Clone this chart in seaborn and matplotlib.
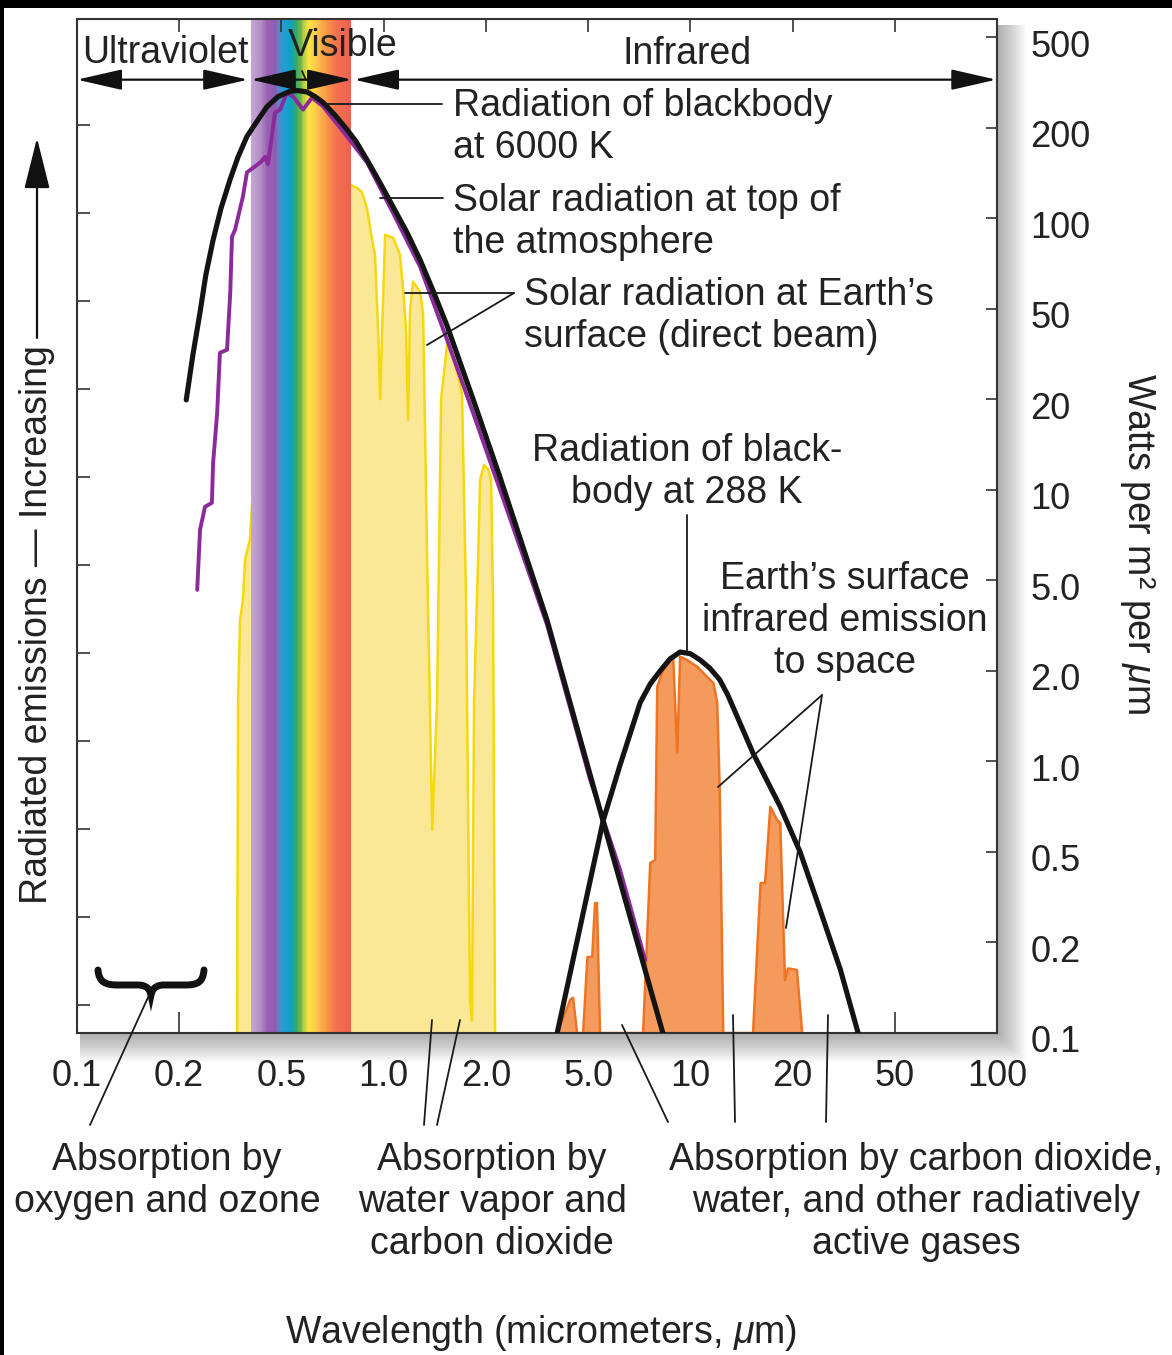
import numpy as np
import matplotlib
matplotlib.use('Agg')
import matplotlib.pyplot as plt
import matplotlib.transforms as mtransforms
from matplotlib.colors import LinearSegmentedColormap
from matplotlib.patches import Rectangle, PathPatch
from matplotlib.path import Path
from matplotlib.lines import Line2D
from matplotlib.ticker import NullLocator
import seaborn as sns

# axis ticks: both axes are drawn with the tick values evenly spaced
x_ticks = [0.1, 0.2, 0.5, 1, 2, 5, 10, 20, 50, 100]
x_tick_labels = ['0.1', '0.2', '0.5', '1.0', '2.0', '5.0', '10', '20', '50', '100']
y_ticks = [0.1, 0.2, 0.5, 1, 2, 5, 10, 20, 50, 100, 200, 500]
y_tick_labels = ['0.1', '0.2', '0.5', '1.0', '2.0', '5.0', '10', '20', '50', '100', '200', '500']

# blackbody at 6000 K (um, W m-2 um-1)
bb6000_um = [0.213, 0.226, 0.241, 0.254, 0.271, 0.291, 0.316, 0.339, 0.367, 0.398,
             0.439, 0.485, 0.530, 0.559, 0.595, 0.628, 0.663, 0.719, 0.78, 0.829,
             0.894, 0.976, 1.066, 1.172, 1.28, 1.398, 1.537, 1.834, 2.27, 3.46, 5.54, 8.3]
bb6000_w = [19.9, 31.3, 48.2, 64.9, 84.7, 108, 135, 160, 187, 210,
            247, 274, 289, 291, 287, 274, 258, 227, 197, 180,
            156, 131, 109, 89.5, 72.7, 57.4, 42.1, 20, 11.0, 3.34, 0.63, 0.1]

# blackbody at 288 K
bb288_um = [3.79, 5.54, 6.21, 7.12, 7.62, 8.15, 8.72, 9.33, 10.0, 10.7, 11.4, 12.2,
            12.9, 13.55, 15.3, 18.4, 21.4, 25.6, 30.7, 36]
bb288_w = [0.1, 0.637, 0.973, 1.57, 1.81, 2.0, 2.26, 2.42, 2.38, 2.23, 2.06, 1.87,
           1.66, 1.461, 1.065, 0.707, 0.5, 0.278, 0.1625, 0.1]

# solar radiation at top of the atmosphere
toa_um = [0.235, 0.241, 0.252, 0.268, 0.271, 0.281, 0.288, 0.307, 0.316, 0.321, 0.330, 0.354,
          0.367, 0.413, 0.432, 0.443, 0.472, 0.494, 0.519, 0.541, 0.579, 0.615, 0.663, 0.78,
          0.894, 1.066, 1.28, 1.537, 1.834, 2.27, 3.46, 5.07, 6.21, 7.36]
toa_w = [4.54, 7.36, 8.78, 9.05, 12.3, 18.0, 32.0, 33.0, 56.5, 86.8, 91.6, 118,
         142, 153, 160, 151, 233, 240, 285, 274, 240, 271, 248, 187,
         153, 104, 69, 36.5, 18.0, 10, 3.19, 0.868, 0.417, 0.175]

# solar radiation at Earth's surface (direct beam)
surface_um = [0.336, 0.339, 0.345, 0.354, 0.361, 0.377, 0.395, 0.567, 0.796, 0.835,
              0.864, 0.894, 0.924, 0.943, 0.963, 0.976, 0.996, 1.01, 1.066, 1.117,
              1.141, 1.164, 1.18, 1.196, 1.221, 1.28, 1.307, 1.343, 1.39, 1.437,
              1.476, 1.537, 1.59, 1.656, 1.702, 1.748, 1.796, 1.82, 1.846, 1.897,
              1.923, 1.975, 2.04, 2.096, 2.132, 2.172]
surface_w = [0.1, 1.6, 3.34, 4.1, 5.85, 6.82, 13.6, 115, 129, 126,
             122, 107, 85, 75.6, 40.4, 20, 53.6, 88.1, 86.1, 75.6,
             57.8, 40.4, 17.1, 49.5, 61.5, 57, 47, 5.85, 0.592, 1.6,
             20, 34.7, 31.4, 25.6, 20.9, 4.1, 0.129, 0.11, 1.6, 5.85,
             10.8, 12.1, 11.7, 10.8, 4.1, 0.1]

# Earth's surface infrared emission to space
earth_ir_um = [3.79, 4.26, 4.37, 4.53, 4.78, 4.97, 5.14, 5.24, 5.31, 5.42,
               7.26, 7.62, 7.88, 7.99, 8.32, 8.9, 9.15, 9.33, 9.79, 10.5, 11.2, 11.7, 12.0, 12.2, 12.5,
               15.3, 16.1, 16.6, 17.2, 18.0, 18.4, 19.0, 19.4, 20.8, 21.8]
earth_ir_w = [0.1, 0.129, 0.131, 0.1, 0.1, 0.179, 0.179, 0.298, 0.298, 0.1,
              0.1, 0.447, 0.461, 1.77, 2.02, 2.31, 1.067, 2.31, 2.23, 2.08, 1.91, 1.82, 1.565, 0.823, 0.1,
              0.1, 0.365, 0.365, 0.706, 0.639, 0.624, 0.15, 0.164, 0.162, 0.1]

visible_um = (0.38, 0.80)
band_arrow_w = 325
uv_arrow = (0.1, 0.371)
vis_arrow = (0.38, 0.807)
ir_arrow = (0.818, 99.5)

spectrum_colors = [(0.0, '#c4a6d4'), (0.10, '#b18bc5'), (0.15, '#9c62b4'), (0.24, '#8a5cb0'),
                   (0.27, '#6a7cc2'), (0.31, '#2a9ad3'), (0.38, '#0fa2cf'), (0.42, '#1aa5a0'),
                   (0.46, '#3ea963'), (0.50, '#74b54b'), (0.54, '#c8d440'), (0.58, '#fde244'),
                   (0.64, '#fcd046'), (0.70, '#fab24a'), (0.78, '#f79046'), (0.86, '#f3714f'),
                   (1.0, '#f0604f')]


def even_log_scale(ticks):
    lt = np.log10(ticks)
    lt = np.concatenate([[2 * lt[0] - lt[1]], lt, [2 * lt[-1] - lt[-2]]])
    pos = np.arange(-1, len(ticks) + 1, dtype=float)

    def fwd(v):
        v = np.clip(np.asarray(v, dtype=float), 1e-6, None)
        return np.interp(np.log10(v), lt, pos)

    def inv(p):
        return 10 ** np.interp(np.asarray(p, dtype=float), pos, lt)
    return fwd, inv


fx, ix = even_log_scale(x_ticks)
fy, iy = even_log_scale(y_ticks)

sns.set_theme(style='white')
plt.rcParams['font.family'] = ['Liberation Sans', 'DejaVu Sans']
plt.rcParams['mathtext.fontset'] = 'custom'
plt.rcParams['mathtext.rm'] = 'Liberation Sans'
plt.rcParams['mathtext.it'] = 'Liberation Sans:italic'

W, H = 1172, 1355
fig = plt.figure(figsize=(W / 100, H / 100), dpi=100)
fig.patch.set_facecolor('white')
T = mtransforms.Affine2D().scale(1 / W, -1 / H).translate(0, 1) + fig.transFigure
TXT = '#222222'

ax = fig.add_axes([77 / W, 1 - 1033 / H, 920 / W, 1014 / H])
ax.set_facecolor('white')
ax.set_xscale('function', functions=(fx, ix))
ax.set_yscale('function', functions=(fy, iy))

# surface direct beam
ax.fill_between(surface_um, 0.1, surface_w, color='#fbe897', lw=0, zorder=1)
sns.lineplot(x=surface_um, y=surface_w, ax=ax, color='#f6d80e', lw=1.8, sort=False,
             estimator=None, zorder=1.1)

# earth's infrared emission
ax.fill_between(earth_ir_um, 0.1, earth_ir_w, color='#f49a5c', lw=0, zorder=1.2)
sns.lineplot(x=earth_ir_um, y=earth_ir_w, ax=ax, color='#ee7424', lw=1.8, sort=False,
             estimator=None, zorder=1.3)

# visible spectrum band
cmap = LinearSegmentedColormap.from_list('spectrum', spectrum_colors)
edges = ix(np.linspace(fx(visible_um[0]), fx(visible_um[1]), 81))
ax.pcolormesh(edges, [0.1, iy(11.2)], np.linspace(0, 1, 80)[None, :], cmap=cmap,
              shading='flat', zorder=1.5)

sns.lineplot(x=toa_um, y=toa_w, ax=ax, color='#8a2a9b', lw=2.8, sort=False,
             estimator=None, zorder=3)
sns.lineplot(x=bb6000_um, y=bb6000_w, ax=ax, color='#141414', lw=3.7, sort=False,
             estimator=None, zorder=4)
sns.lineplot(x=bb288_um, y=bb288_w, ax=ax, color='#141414', lw=3.7, sort=False,
             estimator=None, zorder=4)

ax.set_xlim(0.1, 100)
ax.set_ylim(0.1, iy(11.2))
ax.set_xlabel('')
ax.set_ylabel('')

# band arrows along the top
arrow_kw = dict(arrowstyle='<|-|>,head_length=1.4,head_width=0.32', mutation_scale=20,
                lw=1.6, color='#111111', shrinkA=0, shrinkB=0)
for a, b in (uv_arrow, vis_arrow, ir_arrow):
    ax.annotate('', xy=(b, band_arrow_w), xytext=(a, band_arrow_w),
                arrowprops=arrow_kw, annotation_clip=False, zorder=6)

# ticks
ax.set_xticks(x_ticks)
ax.set_xticklabels(x_tick_labels)
ax.set_yticks(y_ticks)
ax.set_yticklabels(y_tick_labels)
ax.xaxis.set_minor_locator(NullLocator())
ax.yaxis.set_minor_locator(NullLocator())

ty = ax.twinx()
ty.set_ylim(0, 11.2)
ty.yaxis.tick_left()
ty.set_yticks(np.linspace(0.31, 10.03, 11))
ty.tick_params(direction='in', length=9, width=1.2, color='#333333',
               labelleft=False, labelright=False)
for s in ty.spines.values():
    s.set_visible(False)

tx = ax.twiny()
tx.set_xlim(0, 9)
tx.set_xticks(range(1, 9))
tx.tick_params(direction='in', length=9, width=1.2, color='#333333',
               labeltop=False, labelbottom=False)
for s in tx.spines.values():
    s.set_visible(False)

ax.yaxis.tick_right()
ax.tick_params(axis='x', direction='in', length=15, width=1.2, color='#333333',
               pad=19, labelsize=26, labelcolor=TXT)
ax.tick_params(axis='y', direction='in', length=8, width=1.2, color='#333333',
               pad=24, labelsize=26, labelcolor=TXT, left=False, right=True)
offset = mtransforms.ScaledTranslation(0, -0.06, fig.dpi_scale_trans)
for lab in ax.get_yticklabels():
    lab.set_transform(lab.get_transform() + offset)
for s in ax.spines.values():
    s.set_color('#333333')
    s.set_linewidth(1.5)

# drop shadow and dark edges of the scan
for d in range(1, 31, 2):
    fig.patches.append(Rectangle((80, 25), 917 + d, 1008 + d, transform=T,
                                 facecolor='black', alpha=0.022, lw=0, zorder=-1))
fig.patches.append(Rectangle((0, 0), W, 8, transform=T, facecolor='black', lw=0, zorder=10))
fig.patches.append(Rectangle((0, 0), 4, H, transform=T, facecolor='black', lw=0, zorder=10))

# texts
tk = dict(transform=T, fontsize=27, color=TXT, linespacing=1.23)
fig.text(82, 53, 'Ultraviolet', ha='left', va='center', **tk)
fig.text(343, 46, 'Visible', ha='center', va='center', **tk)
fig.text(687, 54, 'Infrared', ha='center', va='center', **tk)
fig.text(453, 127, 'Radiation of blackbody\nat 6000 K', ha='left', va='center', **tk)
fig.text(453, 222, 'Solar radiation at top of\nthe atmosphere', ha='left', va='center', **tk)
fig.text(524, 316, 'Solar radiation at Earth\u2019s\nsurface (direct beam)', ha='left',
         va='center', **tk)
fig.text(687, 472, 'Radiation of black-\nbody at 288 K', ha='center', va='center',
         multialignment='center', **tk)
fig.text(845, 621, 'Earth\u2019s surface\ninfrared emission\nto space', ha='center',
         va='center', multialignment='center', **tk)
fig.text(167, 1181, 'Absorption by\noxygen and ozone', ha='center', va='center',
         multialignment='center', **tk)
fig.text(492, 1202, 'Absorption by\nwater vapor and\ncarbon dioxide', ha='center',
         va='center', multialignment='center', **tk)
fig.text(916, 1202, 'Absorption by carbon dioxide,\nwater, and other radiatively\nactive gases',
         ha='center', va='center', multialignment='center', **tk)
fig.text(541, 1333, 'Wavelength (micrometers, $\\mu$m)', ha='center', va='center', **tk)
fig.text(1137, 543, 'Watts per m\u00b2 per $\\mu$m', ha='center', va='center', rotation=270, **tk)
fig.text(37, 625, 'Radiated emissions \u2014 Increasing', ha='center', va='center',
         rotation=90, **tk)

ax.annotate('', xy=(37, 138), xytext=(37, 338), xycoords=T, textcoords=T,
            arrowprops=dict(arrowstyle='-|>,head_length=1.6,head_width=0.4', mutation_scale=20,
                            lw=1.6, color='#111111', shrinkA=0, shrinkB=0),
            annotation_clip=False)

# leader lines
leaders = [[(327, 104), (442, 104)], [(380, 198), (443, 198)], [(405, 293), (514, 293)],
           [(427, 345), (514, 293)], [(687, 515), (687, 651)], [(718, 787), (822, 695)],
           [(786, 928), (822, 695)], [(302, 71), (306, 80)], [(90, 1125), (150, 993)],
           [(424, 1125), (432, 1020)], [(437, 1125), (460, 1020)], [(668, 1122), (622, 1025)],
           [(735, 1122), (733, 1015)], [(826, 1122), (828, 1015)]]
for (x0, y0), (x1, y1) in leaders:
    fig.add_artist(Line2D([x0, x1], [y0, y1], transform=T, color='#1a1a1a', lw=1.3))

# curly brace over the oxygen/ozone absorption region
verts = [(98, 970), (99, 982), (105, 985), (118, 985), (138, 985),
         (146, 985), (150, 989), (151, 995), (152, 989), (156, 985), (164, 985),
         (185, 985), (198, 985), (203, 982), (204, 970)]
codes = [Path.MOVETO, Path.CURVE4, Path.CURVE4, Path.CURVE4, Path.LINETO,
         Path.CURVE4, Path.CURVE4, Path.CURVE4, Path.CURVE4, Path.CURVE4, Path.CURVE4,
         Path.LINETO, Path.CURVE4, Path.CURVE4, Path.CURVE4]
fig.add_artist(PathPatch(Path(verts, codes), transform=T, fill=False, lw=5,
                         edgecolor='#111111', capstyle='round'))

fig.savefig('out.png', dpi=100)
